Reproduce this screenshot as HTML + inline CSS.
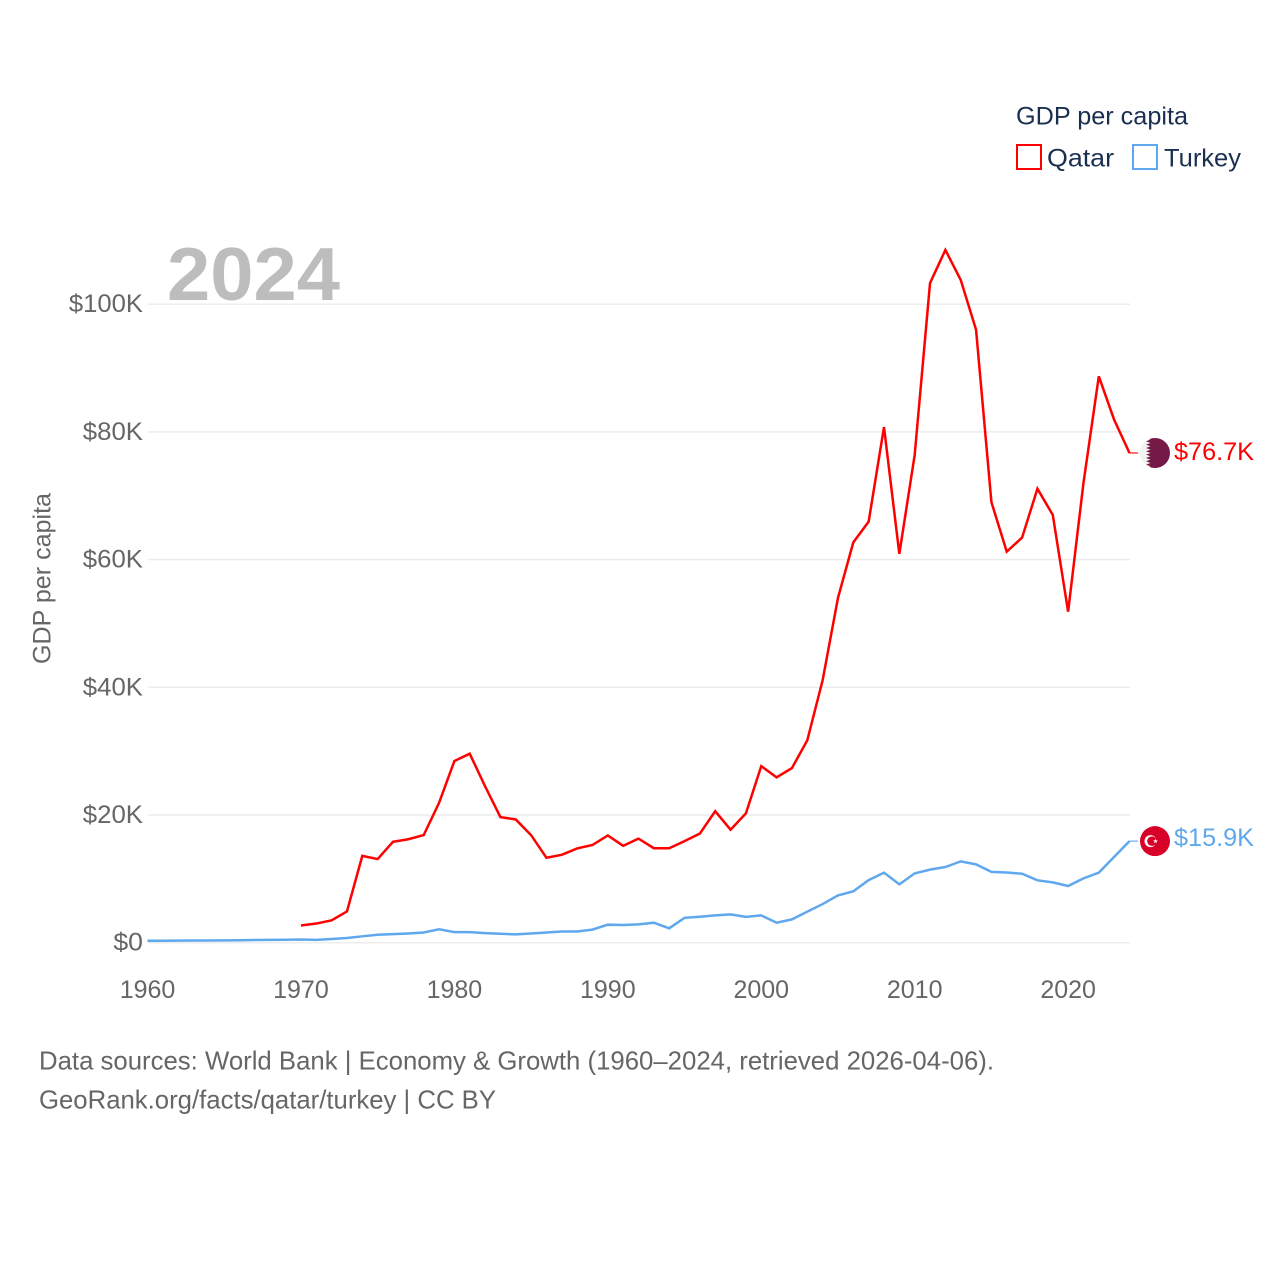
<!DOCTYPE html>
<html lang="en">
<head>
<meta charset="utf-8">
<title>GDP per capita: Qatar and Turkey</title>
<style>
html,body{margin:0;padding:0;background:#fff;}
svg{display:block;font-family:"Liberation Sans","DejaVu Sans",sans-serif;}
</style>
</head>
<body>
<svg id="chart" xmlns="http://www.w3.org/2000/svg" width="1280" height="1280" viewBox="0 0 1280 1280">
  <defs>
    <clipPath id="flag-clip"><circle cx="0" cy="0" r="15"></circle></clipPath>
  </defs>
  <rect x="0" y="0" width="1280" height="1280" fill="#fff"></rect>
  <g id="grid"></g>
  <text x="167" y="300" font-size="75" font-weight="700" fill="#bdbdbd" textLength="173" lengthAdjust="spacingAndGlyphs">2024</text>
  <g id="y-ticks"></g>
  <g id="x-ticks"></g>
  <text transform="translate(50.5,578.5) rotate(-90)" text-anchor="middle" font-size="25" fill="#666" textLength="171" lengthAdjust="spacingAndGlyphs">GDP per capita</text>
  <g id="series"></g>

  <g id="flag-qatar">
    <g clip-path="url(#flag-clip)">
      <rect x="-15" y="-15" width="30" height="30" fill="#f3f3f3"></rect>
      <polygon fill="#751a47" points="15,-15 -9,-15 -4.5,-13.3 -9,-11.7 -4.5,-10 -9,-8.3 -4.5,-6.7 -9,-5 -4.5,-3.3 -9,-1.7 -4.5,0 -9,1.7 -4.5,3.3 -9,5 -4.5,6.7 -9,8.3 -4.5,10 -9,11.7 -4.5,13.3 -9,15 15,15"></polygon>
    </g>
  </g>
  <g id="flag-turkey">
    <circle cx="0" cy="0" r="15" fill="#d80027"></circle>
    <circle cx="-4.5" cy="0" r="6" fill="#fff"></circle>
    <circle cx="-3" cy="0" r="4.8" fill="#d80027"></circle>
    <polygon fill="#fff" points="0.5,-2.6 1.1,-0.8 3,-0.8 1.5,0.3 2,2.1 0.5,1 -1,2.1 -0.5,0.3 -2,-0.8 -0.1,-0.8"></polygon>
  </g>

  <g>
    <text x="1016" y="124.5" font-size="25" fill="#1a2f50" textLength="172" lengthAdjust="spacingAndGlyphs">GDP per capita</text>
    <g>
      <rect x="1017" y="145" width="24" height="24" fill="none" stroke="#ff0000" stroke-width="2"></rect>
      <text x="1047" y="166.5" font-size="25" fill="#1a2f50" textLength="67" lengthAdjust="spacingAndGlyphs">Qatar</text>
    </g>
    <g>
      <rect x="1133" y="145" width="24" height="24" fill="none" stroke="#5fa8ee" stroke-width="2"></rect>
      <text x="1164" y="166.5" font-size="25" fill="#1a2f50" textLength="77" lengthAdjust="spacingAndGlyphs">Turkey</text>
    </g>
  </g>

  <text x="39" y="1069.5" font-size="26" fill="#666" textLength="955" lengthAdjust="spacingAndGlyphs">Data sources: World Bank | Economy &amp; Growth (1960–2024, retrieved 2026-04-06).</text>
  <a>
    <text x="39" y="1108.5" font-size="26" fill="#666" textLength="457" lengthAdjust="spacingAndGlyphs">GeoRank.org/facts/qatar/turkey | CC BY</text>
  </a>
</svg>

<script>
const firstYear = 1960;
const lastYear = 2024;
const yTickValues = [0, 20, 40, 60, 80, 100];
const yTickLabels = ["$0", "$20K", "$40K", "$60K", "$80K", "$100K"];
const xTickYears = [1960, 1970, 1980, 1990, 2000, 2010, 2020];
const xTickLabels = ["1960", "1970", "1980", "1990", "2000", "2010", "2020"];

// GDP per capita in thousands of US dollars, one value per year from 1960. null = no data.
const qatarValues = [
  null, null, null, null, null, null, null, null, null, null,
  2.7, 3.0, 3.5, 4.9, 13.6, 13.1, 15.8, 16.2, 16.85, 21.9,
  28.45, 29.6, 24.5, 19.67, 19.3, 16.85, 13.3, 13.76, 14.76, 15.3,
  16.8, 15.17, 16.3, 14.8, 14.8, 15.9, 17.1, 20.6, 17.7, 20.25,
  27.65, 25.9, 27.35, 31.7, 41.1, 54.0, 62.7, 65.95, 80.75, 60.9,
  76.4, 103.3, 108.5, 103.8, 96.0, 69.0, 61.25, 63.45, 71.1, 67.0,
  51.85, 72.0, 88.7, 81.9, 76.7
];
const turkeyValues = [
  0.31, 0.3, 0.32, 0.34, 0.35, 0.36, 0.39, 0.42, 0.45, 0.47,
  0.5, 0.45, 0.57, 0.73, 1.0, 1.25, 1.35, 1.45, 1.6, 2.1,
  1.65, 1.65, 1.5, 1.4, 1.3, 1.45, 1.6, 1.75, 1.75, 2.05,
  2.82, 2.77, 2.87, 3.13, 2.25, 3.9, 4.07, 4.28, 4.44, 4.05,
  4.28, 3.13, 3.65, 4.86, 6.05, 7.4, 8.04, 9.8, 10.97, 9.14,
  10.86, 11.44, 11.85, 12.74, 12.27, 11.1, 11.0, 10.8, 9.77, 9.45,
  8.88, 10.08, 10.97, 13.45, 15.9
];

const SVG_NS = "http://www.w3.org/2000/svg";
const plotLeft = 147.5;
const plotRight = 1129.5;
const plotZero = 942.7;
const pxPerThousand = 6.385;

function xScale(year) {
  return plotLeft + (year - firstYear) * (plotRight - plotLeft) / (lastYear - firstYear);
}
function yScale(value) {
  return plotZero - value * pxPerThousand;
}
function make(tag, parent) {
  const el = document.createElementNS(SVG_NS, tag);
  parent.appendChild(el);
  return el;
}

const gridGroup = document.getElementById("grid");
const yTickGroup = document.getElementById("y-ticks");
yTickValues.forEach(function (v, i) {
  const line = make("line", gridGroup);
  
  
  line.setAttribute("x1", plotLeft + 0.5);
  line.setAttribute("x2", plotRight + 0.5);
  line.setAttribute("y1", yScale(v));
  line.setAttribute("y2", yScale(v));
  line.setAttribute("stroke", "#ececec");
  line.setAttribute("stroke-width", "1.5");

  const label = make("text", yTickGroup);
  
  
  label.setAttribute("x", 143);
  label.setAttribute("y", yScale(v) + 8);
  label.setAttribute("text-anchor", "end");
  label.setAttribute("font-size", "25");
  label.setAttribute("fill", "#666");
  label.textContent = yTickLabels[i];
  label.setAttribute("textLength", (label.getComputedTextLength() + 1.8).toFixed(1));
  label.setAttribute("lengthAdjust", "spacingAndGlyphs");
});

const xTickGroup = document.getElementById("x-ticks");
xTickYears.forEach(function (year, i) {
  const label = make("text", xTickGroup);
  
  
  label.setAttribute("x", xScale(year));
  label.setAttribute("y", 998);
  label.setAttribute("text-anchor", "middle");
  label.setAttribute("font-size", "25");
  label.setAttribute("fill", "#666");
  label.textContent = xTickLabels[i];
});

const seriesGroup = document.getElementById("series");

function buildPoints(values) {
  const pts = [];
  values.forEach(function (v, i) {
    if (v !== null) {
      pts.push(xScale(firstYear + i).toFixed(2) + "," + yScale(v).toFixed(2));
    }
  });
  return pts.join(" ");
}
function endLabelText(values) {
  return "$" + values[values.length - 1].toFixed(1) + "K";
}

// Qatar
const qatarLine = make("polyline", seriesGroup);


qatarLine.setAttribute("points", buildPoints(qatarValues));
qatarLine.setAttribute("fill", "none");
qatarLine.setAttribute("stroke", "#ff0000");
qatarLine.setAttribute("stroke-width", "2.5");
qatarLine.setAttribute("stroke-linejoin", "miter");

const qatarEndY = yScale(qatarValues[qatarValues.length - 1]);
const qatarLeader = make("line", seriesGroup);


qatarLeader.setAttribute("x1", plotRight);
qatarLeader.setAttribute("x2", 1138);
qatarLeader.setAttribute("y1", qatarEndY);
qatarLeader.setAttribute("y2", qatarEndY);
qatarLeader.setAttribute("stroke", "#ff0000");
qatarLeader.setAttribute("stroke-width", "1.5");
qatarLeader.setAttribute("stroke-opacity", "0.75");

document.getElementById("flag-qatar").setAttribute("transform", "translate(1155," + qatarEndY + ")");

const qatarLabel = make("text", seriesGroup);


qatarLabel.setAttribute("x", 1174);
qatarLabel.setAttribute("y", qatarEndY + 7);
qatarLabel.setAttribute("font-size", "25");
qatarLabel.setAttribute("fill", "#ff0000");
qatarLabel.setAttribute("textLength", "80");
qatarLabel.setAttribute("lengthAdjust", "spacingAndGlyphs");
qatarLabel.textContent = endLabelText(qatarValues);

// Turkey
const turkeyLine = make("polyline", seriesGroup);


turkeyLine.setAttribute("points", buildPoints(turkeyValues));
turkeyLine.setAttribute("fill", "none");
turkeyLine.setAttribute("stroke", "#5fa8ee");
turkeyLine.setAttribute("stroke-width", "2.5");
turkeyLine.setAttribute("stroke-linejoin", "miter");

const turkeyEndY = yScale(turkeyValues[turkeyValues.length - 1]);
const turkeyLeader = make("line", seriesGroup);


turkeyLeader.setAttribute("x1", plotRight);
turkeyLeader.setAttribute("x2", 1138);
turkeyLeader.setAttribute("y1", turkeyEndY);
turkeyLeader.setAttribute("y2", turkeyEndY);
turkeyLeader.setAttribute("stroke", "#5fa8ee");
turkeyLeader.setAttribute("stroke-width", "1.5");
turkeyLeader.setAttribute("stroke-opacity", "0.75");

document.getElementById("flag-turkey").setAttribute("transform", "translate(1155," + turkeyEndY + ")");

const turkeyLabel = make("text", seriesGroup);


turkeyLabel.setAttribute("x", 1174);
turkeyLabel.setAttribute("y", turkeyEndY + 5);
turkeyLabel.setAttribute("font-size", "25");
turkeyLabel.setAttribute("fill", "#5fa8ee");
turkeyLabel.setAttribute("textLength", "80");
turkeyLabel.setAttribute("lengthAdjust", "spacingAndGlyphs");
turkeyLabel.textContent = endLabelText(turkeyValues);
</script>
</body>
</html>
